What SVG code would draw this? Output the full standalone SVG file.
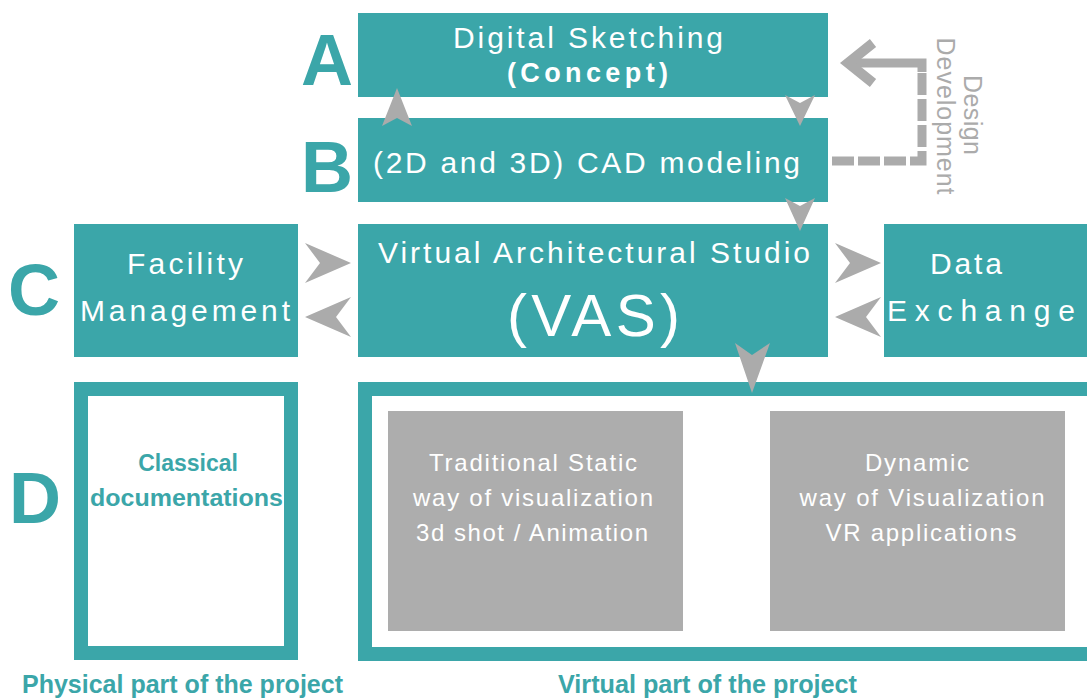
<svg xmlns="http://www.w3.org/2000/svg" width="1087" height="698" viewBox="0 0 1087 698">
<style>
.box{fill:#3BA6A9}
.frame{fill:none;stroke:#3BA6A9;stroke-width:14}
.gbox{fill:#ADADAD}
.arr{fill:#ABABAB}
.w{fill:#fff;font-family:"Liberation Sans",Arial,sans-serif;font-size:30px}
.big{fill:#3BA6A9;font-family:"Liberation Sans",Arial,sans-serif;font-weight:bold;font-size:72px}
.gt{fill:#fff;font-family:"Liberation Sans",Arial,sans-serif;font-size:24px;text-anchor:middle}
.tl{fill:#3BA6A9;font-family:"Liberation Sans",Arial,sans-serif;font-weight:bold;font-size:23px}
.bl{fill:#3BA6A9;font-family:"Liberation Sans",Arial,sans-serif;font-weight:bold;font-size:25px}
.dd{fill:#ABABAB;font-family:"Liberation Sans",Arial,sans-serif;font-size:25px}
</style>
<rect width="1087" height="698" fill="#fff"/>
<g id="labels">
<text class="big" x="327" y="85" text-anchor="middle">A</text>
<text class="big" x="327" y="192" text-anchor="middle">B</text>
<text class="big" x="34" y="315" text-anchor="middle">C</text>
<text class="big" x="35" y="523" text-anchor="middle">D</text>
</g>
<g id="nodeA">
<rect class="box" x="358" y="13" width="470" height="84"/>
<text class="w" x="453" y="48" textLength="270" lengthAdjust="spacing">Digital Sketching</text>
<text class="w" x="507" y="82" style="font-weight:bold;font-size:27px" textLength="161" lengthAdjust="spacing">(Concept)</text>
</g>
<g id="nodeB">
<rect class="box" x="358" y="118" width="470" height="84"/>
<text class="w" x="373" y="173" textLength="427" lengthAdjust="spacing">(2D and 3D) CAD modeling</text>
</g>
<g id="nodeVAS">
<rect class="box" x="358" y="224" width="470" height="133"/>
<text class="w" x="378" y="263" textLength="432" lengthAdjust="spacing">Virtual Architectural Studio</text>
<text class="w" x="507" y="336" style="font-size:60px" textLength="173" lengthAdjust="spacing">(VAS)</text>
</g>
<g id="nodeFM">
<rect class="box" x="74" y="224" width="224" height="133"/>
<text class="w" x="127" y="274" textLength="116" lengthAdjust="spacing">Facility</text>
<text class="w" x="80" y="321" textLength="210" lengthAdjust="spacing">Management</text>
</g>
<g id="nodeDE">
<rect class="box" x="884" y="224" width="210" height="133"/>
<text class="w" x="930" y="274" textLength="72" lengthAdjust="spacing">Data</text>
<text class="w" x="887" y="321" textLength="188" lengthAdjust="spacing">Exchange</text>
</g>
<g id="nodePhysical">
<rect class="frame" x="81" y="389" width="210" height="264"/>
<text class="tl" x="188" y="471" text-anchor="middle">Classical</text>
<text class="tl" x="90" y="506" textLength="193" lengthAdjust="spacingAndGlyphs">documentations</text>
<text class="bl" x="22" y="693" textLength="321" lengthAdjust="spacingAndGlyphs">Physical part of the project</text>
</g>
<g id="nodeVirtual">
<rect class="frame" x="365" y="389" width="730" height="265"/>
<text class="bl" x="558" y="693" textLength="299" lengthAdjust="spacingAndGlyphs">Virtual part of the project</text>
</g>
<g id="nodeStatic">
<rect class="gbox" x="388" y="411" width="295" height="220"/>
<text class="gt" x="533" y="471" textLength="208" lengthAdjust="spacing">Traditional Static</text>
<text class="gt" x="533" y="506" textLength="240" lengthAdjust="spacing">way of visualization</text>
<text class="gt" x="532" y="541" textLength="232" lengthAdjust="spacing">3d shot / Animation</text>
</g>
<g id="nodeDynamic">
<rect class="gbox" x="770" y="411" width="295" height="220"/>
<text class="gt" x="917" y="471" textLength="104" lengthAdjust="spacing">Dynamic</text>
<text class="gt" x="922" y="506" textLength="245" lengthAdjust="spacing">way of Visualization</text>
<text class="gt" x="921" y="541" textLength="191" lengthAdjust="spacing">VR applications</text>
</g>
<g id="connectors">
<polygon class="arr" points="397,88 412,126 397,118 382,126"/>
<polygon class="arr" points="800,126 785,95 800,103 815,95"/>
<polygon class="arr" points="800,231 785,198 800,206 815,198"/>
<polygon class="arr" points="351,263 305,243 320,263 305,283"/>
<polygon class="arr" points="305,317 351,297 336,317 351,337"/>
<polygon class="arr" points="881,263 835,243 850,263 835,283"/>
<polygon class="arr" points="835,317 881,297 866,317 881,337"/>
<polygon class="arr" points="752,393 735,343 752,355 770,343"/>
<path d="M832,161 H922 V72" fill="none" stroke="#ABABAB" stroke-width="9" stroke-dasharray="22,4"/>
<path d="M922,72 V63 H848" fill="none" stroke="#ABABAB" stroke-width="9"/>
<path d="M873,43 L848,63 L873,83" fill="none" stroke="#ABABAB" stroke-width="10"/>
<text class="dd" transform="translate(964,115) rotate(90)" text-anchor="middle" textLength="80" lengthAdjust="spacing">Design</text>
<text class="dd" transform="translate(937,116) rotate(90)" text-anchor="middle" textLength="157" lengthAdjust="spacing">Development</text>
</g>
</svg>
